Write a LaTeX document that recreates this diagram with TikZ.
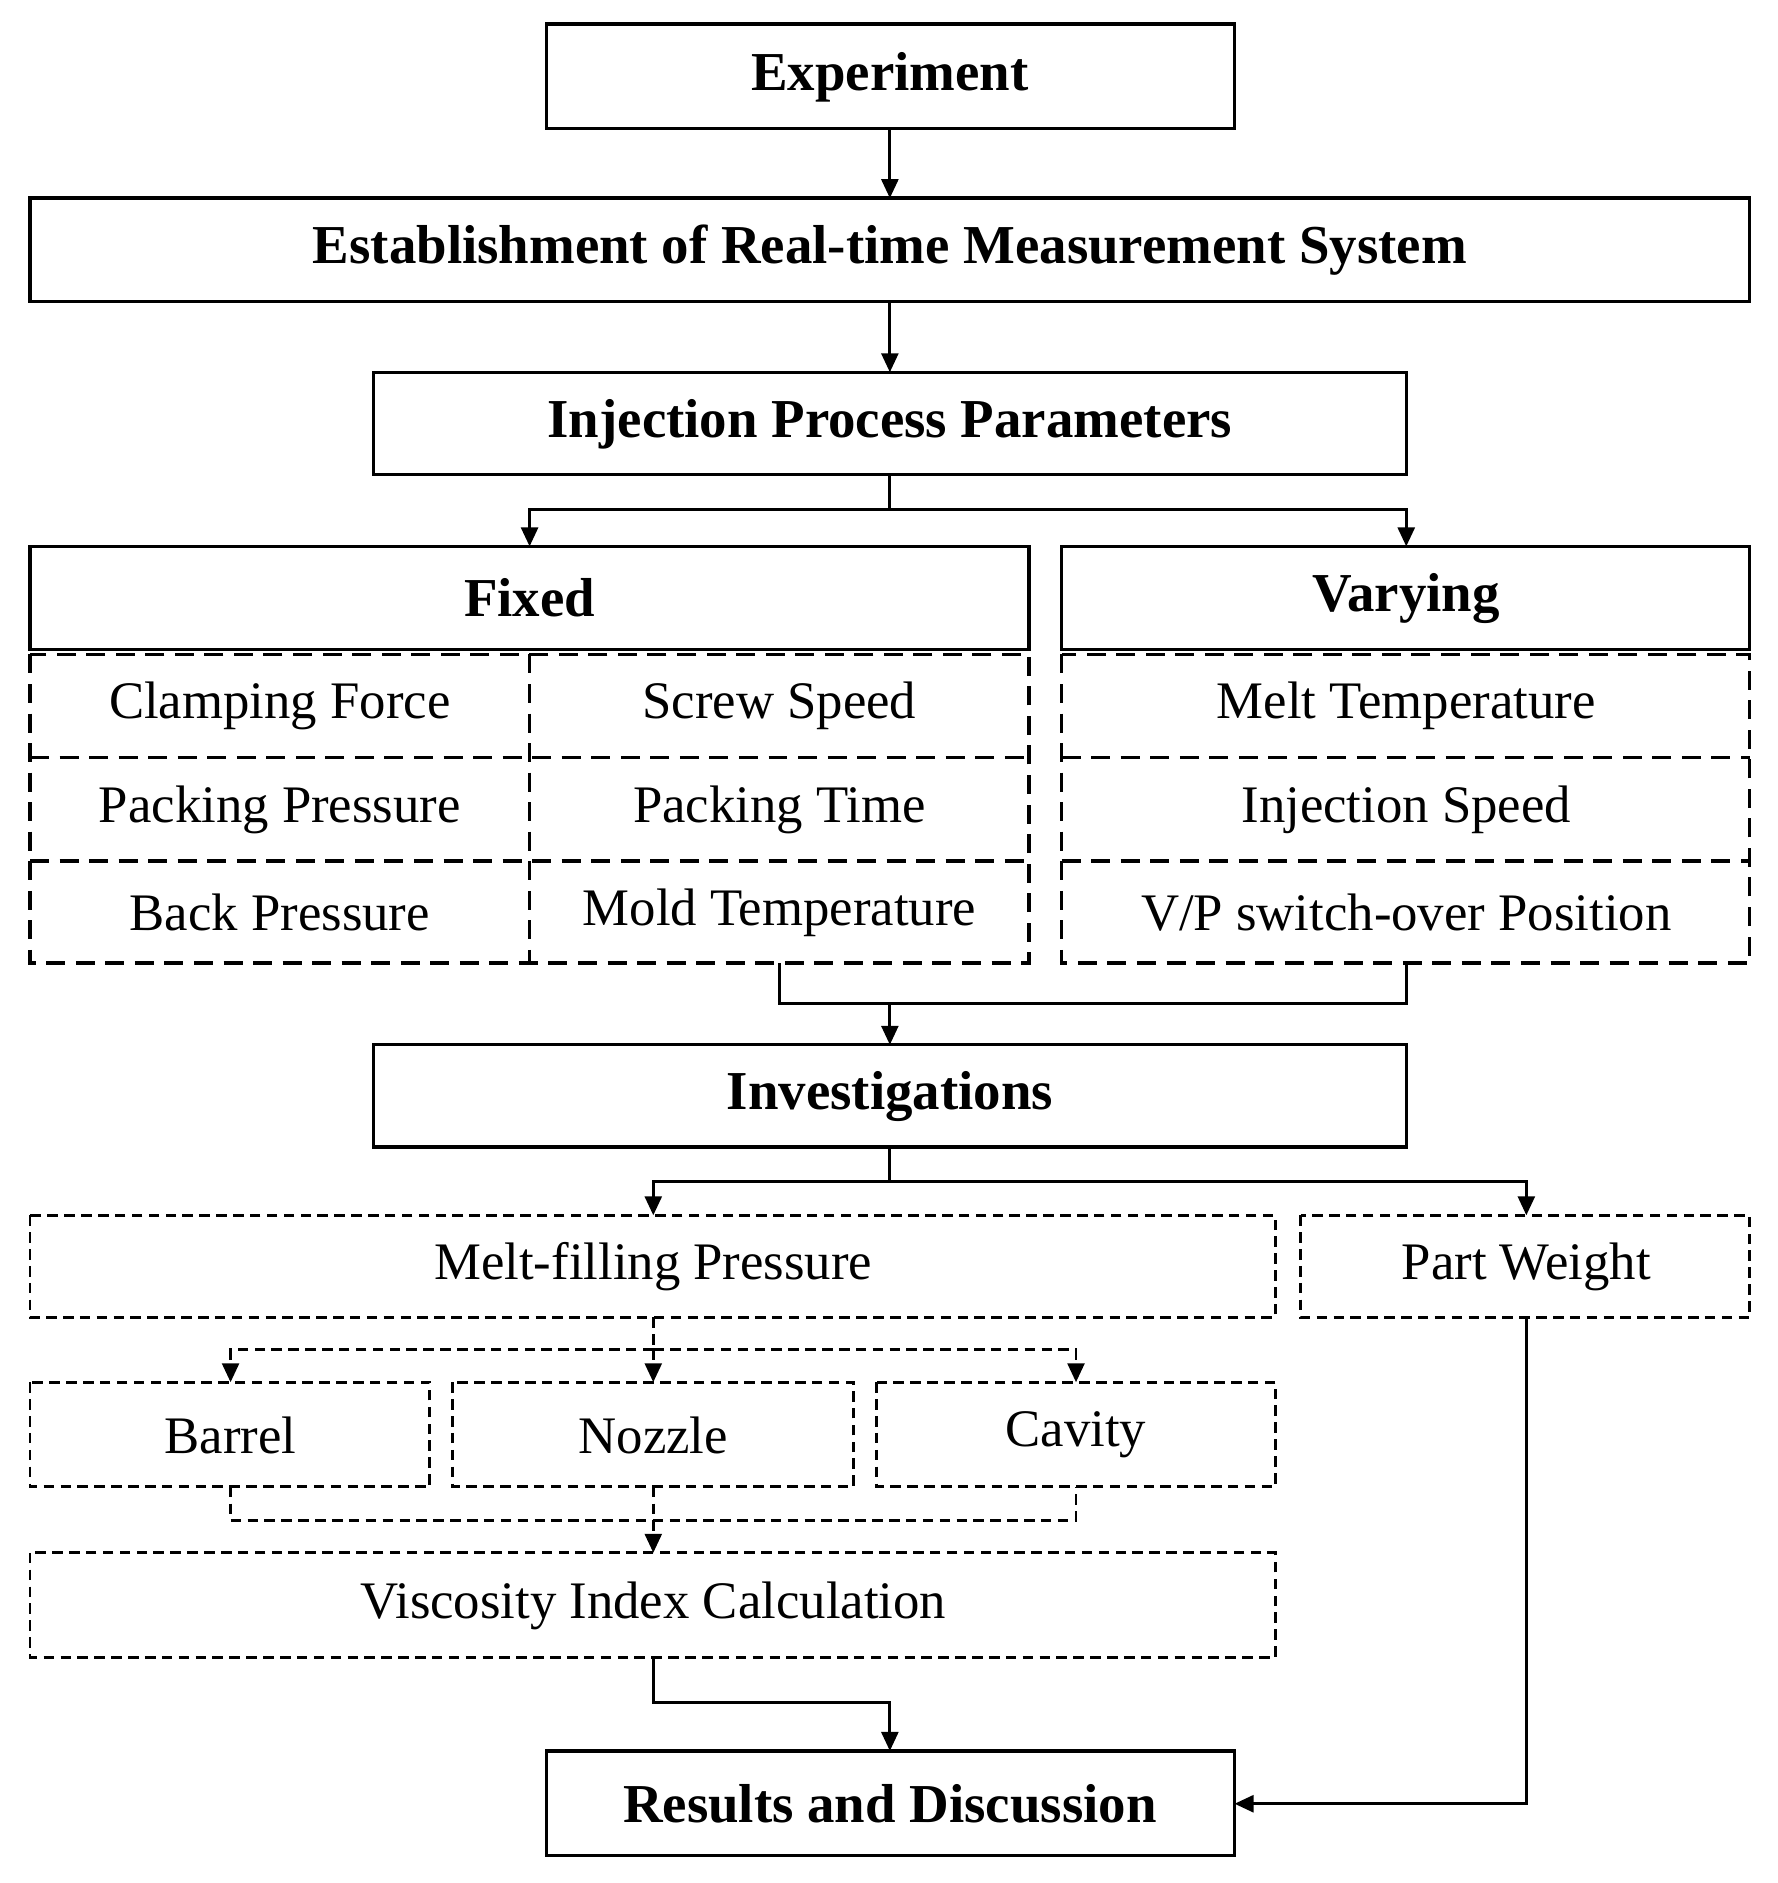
\documentclass[tikz,border=0pt]{standalone}
\usepackage{fontspec}
\setmainfont{Liberation Serif}
\usetikzlibrary{arrows.meta}
\begin{document}
\begin{tikzpicture}[x=0.02cm,y=-0.02cm,
  box/.style={draw,line width=1.6pt},
  dbox/.style={draw,line width=1.6pt,dash pattern=on 9pt off 5pt},
  fbox/.style={draw,line width=1.4pt,dash pattern=on 5pt off 3pt},
  ln/.style={line width=1.4pt},
  arr/.style={line width=1.4pt,-{Triangle[length=9pt,width=8pt]}},
  bt/.style={font=\fontsize{26}{30}\selectfont\bfseries},
  rt/.style={font=\fontsize{25}{30}\selectfont}]
\useasboundingbox (0,0) rectangle (1480,1568);
% solid boxes
\draw[box] (455,20) rectangle (1028,107); \node[bt] (exp) at (741,64) {Experiment};
\draw[box] (25,165) rectangle (1457,251); \node[bt] (est) at (741,208) {Establishment of Real-time Measurement System};
\draw[box] (311,310) rectangle (1171,395); \node[bt] (inj) at (741,353) {Injection Process Parameters};
\draw[box] (25,455) rectangle (857,541); \node[bt] (fix) at (441,498) {Fixed};
\draw[box] (884,455) rectangle (1457,541); \node[bt] (var) at (1171,498) {Varying};
\draw[box] (311,870) rectangle (1171,955); \node[bt] (inv) at (741,913) {Investigations};
\draw[box] (455,1458) rectangle (1028,1545); \node[bt] (res) at (741,1502) {Results and Discussion};
% fixed grid
\draw[dbox] (25,545) rectangle (857,802);
\draw[dbox] (25,631) -- (857,631) (25,717) -- (857,717) (441,545) -- (441,802);
\node[rt] (cf) at (233,588) {Clamping Force};
\node[rt] (ss) at (649,588) {Screw Speed};
\node[rt] (pp) at (233,674) {Packing Pressure};
\node[rt] (pt) at (649,674) {Packing Time};
\node[rt] (bp) at (233,760) {Back Pressure};
\node[rt] (mt) at (649,760) {Mold Temperature};
% varying grid
\draw[dbox] (884,545) rectangle (1457,802);
\draw[dbox] (884,631) -- (1457,631) (884,717) -- (1457,717);
\node[rt] (mtp) at (1171,588) {Melt Temperature};
\node[rt] (is) at (1171,674) {Injection Speed};
\node[rt] (vp) at (1171,760) {V/P switch-over Position};
% fine dashed boxes
\draw[fbox] (25,1012) rectangle (1062,1097); \node[rt] (mf) at (544,1055) {Melt-filling Pressure};
\draw[fbox] (1083,1012) rectangle (1457,1097); \node[rt] (pw) at (1271,1055) {Part Weight};
\draw[fbox] (25,1151) rectangle (358,1238); \node[rt] (ba) at (192,1195) {Barrel};
\draw[fbox] (377,1151) rectangle (711,1238); \node[rt] (no) at (544,1195) {Nozzle};
\draw[fbox] (730,1151) rectangle (1062,1238); \node[rt] (ca) at (896,1195) {Cavity};
\draw[fbox] (25,1293) rectangle (1062,1380); \node[rt] (vi) at (544,1337) {Viscosity Index Calculation};
% connectors
\draw[arr] (741,107) -- (741,165);
\draw[arr] (741,251) -- (741,310);
\draw[ln] (741,395) -- (741,424);
\draw[arr] (741,424) -- (441,424) -- (441,455);
\draw[arr] (741,424) -- (1171,424) -- (1171,455);
\draw[ln] (649,802) -- (649,836) -- (1171,836) -- (1171,802);
\draw[arr] (741,836) -- (741,870);
\draw[ln] (741,955) -- (741,984);
\draw[arr] (741,984) -- (544,984) -- (544,1012);
\draw[arr] (741,984) -- (1271,984) -- (1271,1012);
\begin{scope}[dash pattern=on 5pt off 3pt]
\draw[ln] (544,1097) -- (544,1124);
\draw[arr] (544,1124) -- (192,1124) -- (192,1151);
\draw[arr] (544,1124) -- (896,1124) -- (896,1151);
\draw[arr] (544,1124) -- (544,1151);
\draw[ln] (192,1238) -- (192,1266) -- (896,1266) -- (896,1238);
\draw[arr] (544,1238) -- (544,1293);
\end{scope}
\draw[arr] (544,1380) -- (544,1418) -- (741,1418) -- (741,1458);
\draw[arr] (1271,1097) -- (1271,1502) -- (1028,1502);
\end{tikzpicture}
\end{document}
